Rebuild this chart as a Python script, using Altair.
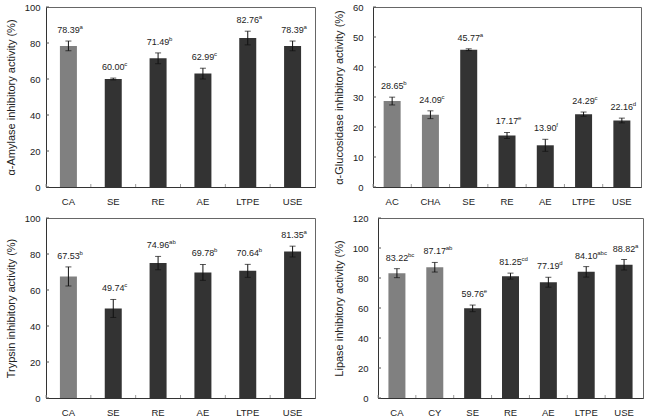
import altair as alt
import pandas as pd

# ---------------- data ----------------
amy_cats = ["CA", "SE", "RE", "AE", "LTPE", "USE"]
amy_vals = [78.39, 60.00, 71.49, 62.99, 82.76, 78.39]
amy_errs = [2.7, 0.5, 3.0, 3.0, 3.8, 2.7]
amy_sups = ["a", "c", "b", "c", "a", "a"]
amy_ctrl = [True, False, False, False, False, False]

glu_cats = ["AC", "CHA", "SE", "RE", "AE", "LTPE", "USE"]
glu_vals = [28.65, 24.09, 45.77, 17.17, 13.90, 24.29, 22.16]
glu_errs = [1.3, 1.3, 0.3, 1.0, 2.0, 0.7, 0.8]
glu_sups = ["b", "c", "a", "e", "f", "c", "d"]
glu_ctrl = [True, True, False, False, False, False, False]

try_cats = ["CA", "SE", "RE", "AE", "LTPE", "USE"]
try_vals = [67.53, 49.74, 74.96, 69.78, 70.64, 81.35]
try_errs = [5.3, 5.0, 3.7, 4.4, 3.6, 3.0]
try_sups = ["b", "c", "ab", "b", "b", "a"]
try_ctrl = [True, False, False, False, False, False]

lip_cats = ["CA", "CY", "SE", "RE", "AE", "LTPE", "USE"]
lip_vals = [83.22, 87.17, 59.76, 81.25, 77.19, 84.10, 88.82]
lip_errs = [3.0, 3.2, 2.2, 2.0, 3.3, 3.5, 3.5]
lip_sups = ["bc", "ab", "e", "cd", "d", "abc", "a"]
lip_ctrl = [True, True, False, False, False, False, False]

amy_ticks = [0, 20, 40, 60, 80, 100]
glu_ticks = [0, 10, 20, 30, 40, 50, 60]
try_ticks = [0, 20, 40, 60, 80, 100]
lip_ticks = [0, 20, 40, 60, 80, 100, 120]

FONT = "Liberation Sans"
H = 180


def panel(cats, vals, errs, sups, ctrl, ticks, title, width, label_pad):
    df = pd.DataFrame({
        "cat": cats,
        "val": vals,
        "lo": [v - e for v, e in zip(vals, errs)],
        "hi": [v + e for v, e in zip(vals, errs)],
        "lab": [f"{v:.2f}" for v in vals],
        "sup": sups,
        "grp": ["ctrl" if c else "sample" for c in ctrl],
    })
    tdf = pd.DataFrame({"lo": ticks})
    dmax = ticks[-1]
    yscale = alt.Scale(domain=[0, dmax], nice=False)
    xscale = alt.Scale(paddingInner=0, paddingOuter=0)
    xaxis = alt.Axis(labelAngle=0, ticks=False, labelPadding=9,
                     domainColor="#333", labelFontSize=9.5,
                     labelColor="#222", labelFont=FONT)
    yaxis = alt.Axis(values=ticks, grid=False, ticks=False,
                     labelOverlap=False,
                     labelPadding=label_pad, domainColor="#333",
                     labelFontSize=9.5, labelColor="#222", labelFont=FONT,
                     titleFontSize=11, titleFontWeight="normal",
                     titleColor="#222", titleFont=FONT, titlePadding=8)

    def X(**kw):
        return alt.X("cat:N", sort=cats, title=None, scale=xscale, axis=xaxis, **kw)

    def Y(field):
        return alt.Y(field, title=title, scale=yscale, axis=yaxis)

    base = alt.Chart(df)
    bars = base.mark_bar(size=17).encode(
        x=X(), y=Y("val:Q"),
        color=alt.Color("grp:N", legend=None,
                        scale=alt.Scale(domain=["ctrl", "sample"],
                                        range=["#808080", "#333333"])))
    rule = base.mark_rule(color="#111", strokeWidth=1).encode(
        x=X(), y=Y("lo:Q"), y2="hi:Q")
    cap_hi = base.mark_tick(color="#111", thickness=1, size=6).encode(
        x=X(), y=Y("hi:Q"))
    cap_lo = base.mark_tick(color="#111", thickness=1, size=6).encode(
        x=X(), y=Y("lo:Q"))
    num = base.mark_text(font=FONT, fontSize=9, color="#222", dy=-8,
                         baseline="alphabetic").encode(
        x=X(), y=Y("hi:Q"), text="lab:N")
    sup = base.mark_text(font=FONT, fontSize=6, color="#222", dx=11, dy=-12,
                         align="left", baseline="alphabetic").encode(
        x=X(), y=Y("hi:Q"), text="sup:N")
    ytk = alt.Chart(tdf).mark_rule(color="#555", strokeWidth=1).encode(
        y=Y("lo:Q"), x=alt.value(0), x2=alt.value(3))
    xtk = base.mark_rule(color="#999", strokeWidth=1).encode(
        x=X(bandPosition=0),
        y=alt.value(H), y2=alt.value(H - 3))
    return alt.layer(bars, rule, cap_hi, cap_lo, num, sup, ytk, xtk).properties(
        width=width, height=H)


p1 = panel(amy_cats, amy_vals, amy_errs, amy_sups, amy_ctrl, amy_ticks,
           "α-Amylase inhibitory activity (%)", 269, 6)
p2 = panel(glu_cats, glu_vals, glu_errs, glu_sups, glu_ctrl, glu_ticks,
           "α-Glucosidase inhibitory activity (%)", 268, 10)
p3 = panel(try_cats, try_vals, try_errs, try_sups, try_ctrl, try_ticks,
           "Trypsin inhibitory activity (%)", 269, 6)
p4 = panel(lip_cats, lip_vals, lip_errs, lip_sups, lip_ctrl, lip_ticks,
           "Lipase inhibitory activity (%)", 265, 10)

chart = alt.vconcat(
    alt.hconcat(p1, p2, spacing=16),
    alt.hconcat(p3, p4, spacing=16),
    spacing=6,
).properties(
    padding={"left": 4, "top": 1, "right": 2, "bottom": 1},
    background="white",
).configure_view(stroke="#666", strokeWidth=1)

chart.save("out.html", embed_options={"renderer": "svg", "actions": False})
